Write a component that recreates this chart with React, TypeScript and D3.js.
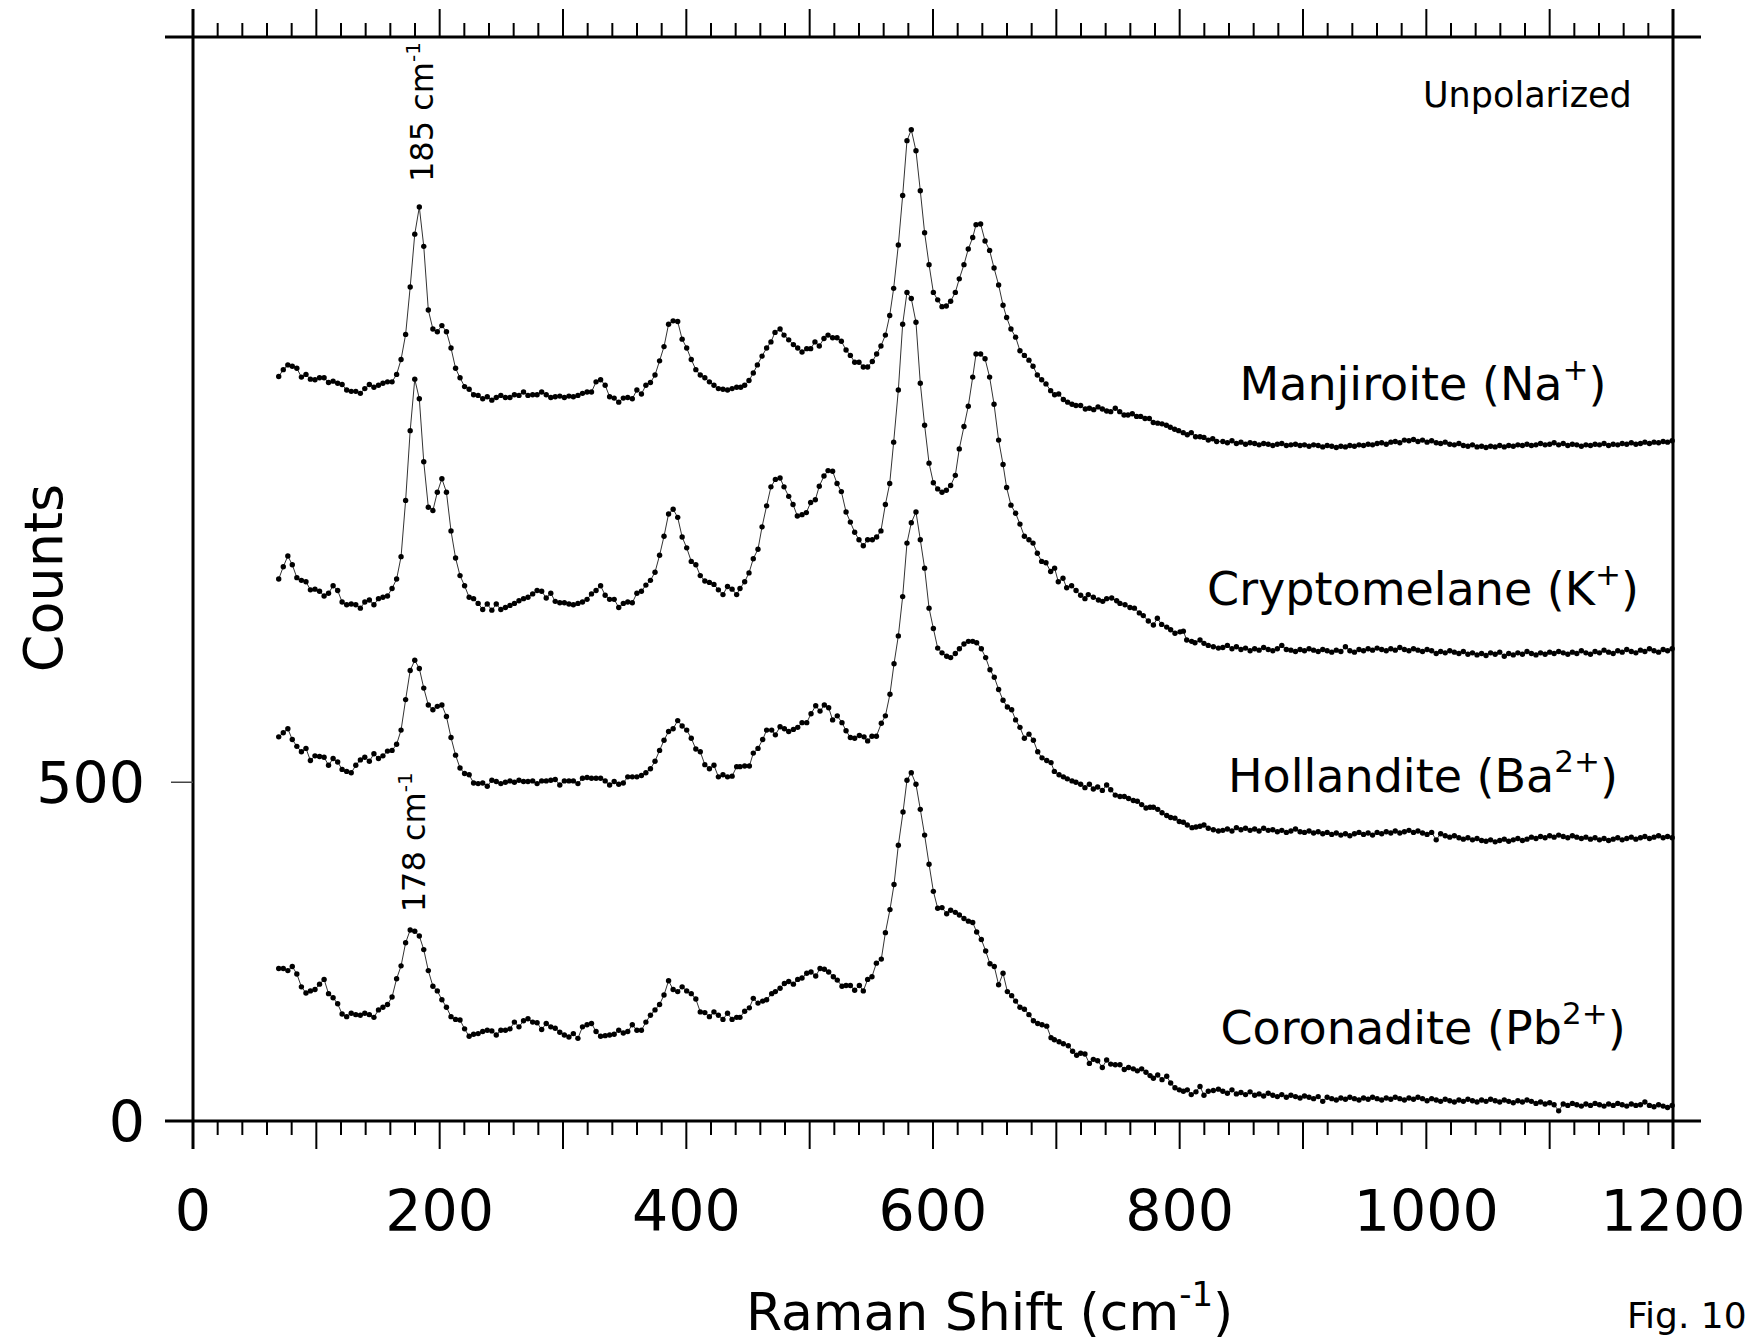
import React from "react";
import * as d3 from "d3";

// ---------- data (Raman shift in cm-1, intensity in counts as plotted) ----------
const LOW_SHIFT = [69.5,73.2,76.9,80.5,84.2,87.9,91.6,95.2,98.9,102.6,
106.3,109.9,113.6,117.3,120.9,124.6,128.3,132.0,135.7,139.3,
143.0,146.7,150.4,154.0,157.7,161.4,165.1,168.7,172.4,176.1,
179.8,183.5,187.1,190.8,194.5,198.1,201.8,205.5,209.2,212.9,
216.5,220.2,223.9,227.5,231.2,234.9,238.6,242.3,245.9,249.6,
253.3,257.0,260.6,264.3,268.0,271.6,275.4,279.0,282.7,286.4,
290.1,293.7,297.4,301.1,304.8,308.4,312.1,315.8,319.5,323.1,
326.8,330.5,334.2,337.8,341.5,345.2,348.9,352.5,356.2,359.9,
363.6,367.2,370.9,374.6,378.3,381.9,385.6,389.3,393.0,396.6,
400.3,404.0,407.7,411.3,415.0,418.7,422.4,426.0,429.7,433.4,
437.1,440.8];

const TAIL_SHIFT = [835.0,838.7,842.4,846.0,849.7,853.4,857.1,860.8,864.4,868.1,
871.8,875.5,879.2,882.8,886.5,890.2,893.9,897.6,901.2,904.9,
908.6,912.3,916.0,919.6,923.3,927.0,930.7,934.4,938.0,941.7,
945.4,949.1,952.8,956.4,960.1,963.8,967.5,971.2,974.8,978.5,
982.2,985.9,989.6,993.2,996.9,1000.6,1004.3,1008.0,1011.6,1015.3,
1019.0,1022.7,1026.4,1030.0,1033.7,1037.4,1041.1,1044.8,1048.4,1052.1,
1055.8,1059.5,1063.2,1066.8,1070.5,1074.2,1077.9,1081.6,1085.2,1088.9,
1092.6,1096.3,1100.0,1103.6,1107.3,1111.0,1114.7,1118.4,1122.0,1125.7,
1129.4,1133.1,1136.8,1140.4,1144.1,1147.8,1151.5,1155.2,1158.8,1162.5,
1166.2,1169.9,1173.6,1177.2,1180.9,1184.6,1188.3,1192.0,1195.6,1199.3];

// Manjiroite (Na+)
const MANJ_LOW = [1099,1109,1116,1114,1111,1098,1102,1095,1094,1097,
1097,1090,1092,1089,1087,1079,1077,1077,1074,1081,
1087,1083,1086,1089,1091,1091,1102,1124,1161,1231,
1309,1349,1291,1197,1169,1165,1174,1165,1141,1111,
1097,1084,1080,1072,1071,1066,1069,1064,1068,1071,
1068,1068,1072,1071,1076,1071,1072,1072,1076,1072,
1068,1069,1070,1068,1070,1069,1071,1074,1076,1076,
1091,1094,1086,1069,1067,1061,1067,1068,1066,1079,
1073,1086,1090,1101,1122,1143,1176,1181,1180,1154,
1141,1124,1109,1101,1097,1091,1086,1081,1080,1079,
1081,1083];
const MANJ_MID = [[444.1,1083],[447.3,1086],[450.8,1093],[454.3,1104],[457.6,1116],[461.4,1129],[465.1,1141],[468.6,1150],[471.9,1164],[476.0,1169],[479.2,1160],[483.0,1153],[486.8,1146],[490.3,1141],[493.8,1135],[497.6,1140],[500.8,1140],[504.3,1150],[507.8,1144],[511.6,1155],[514.9,1160],[518.6,1156],[522.2,1156],[525.7,1151],[529.5,1138],[533.0,1130],[536.5,1120],[540.0,1120],[543.5,1113],[547.0,1113],[550.8,1121],[554.3,1132],[557.8,1144],[561.4,1160],[564.9,1189],[568.1,1229],[571.9,1293],[575.4,1366],[578.9,1447],[582.4,1463],[586.2,1432],[589.7,1373],[593.2,1311],[596.8,1264],[600.3,1223],[603.8,1212],[607.3,1202],[610.8,1203],[614.3,1210],[618.1,1223],[621.3,1243],[625.1,1264],[628.6,1287],[632.2,1304],[634.9,1323],[638.6,1324],[642.2,1299],[645.9,1285],[649.5,1259],[653.2,1234],[656.8,1204],[659.7,1186],[663.2,1169],[667.0,1157],[670.5,1137],[674.1,1130],[677.8,1123],[681.1,1114],[684.6,1101],[688.1,1094],[691.6,1088],[695.4,1078],[698.6,1072],[701.9,1073],[705.7,1065],[709.2,1061],[712.7,1058],[715.9,1056],[719.7,1056],[723.5,1051],[726.8,1052],[730.3,1050],[733.8,1054],[737.3,1051],[740.8,1048],[744.1,1047],[747.8,1052],[751.4,1047],[754.9,1042],[758.1,1042],[761.6,1044],[765.1,1040],[768.4,1040],[771.9,1037],[775.4,1037],[778.6,1031],[782.2,1030],[785.7,1029],[789.2,1027],[792.4,1024],[795.9,1021],[799.2,1019],[802.9,1016],[806.2,1013],[809.4,1016],[812.9,1010],[816.5,1010],[819.7,1009],[823.2,1005],[826.8,1007],[830.0,1003]];
const MANJ_TAIL = [1003,1001,1004,1000,1002,999,1001,1000,998,1000,
999,997,999,1000,997,998,999,997,998,996,
998,997,995,997,996,994,996,995,997,996,
998,997,999,998,1000,1001,999,1002,1003,1001,
1005,1004,1006,1003,1005,1002,1004,1001,1000,1002,
999,998,1000,997,996,998,995,996,994,996,
995,997,995,997,996,998,997,999,997,998,
1000,998,999,1001,998,1000,997,999,998,996,
998,997,999,998,1000,997,999,998,1000,999,
1001,999,1000,1002,1000,1002,1001,1003,1002,1004];

// Cryptomelane (K+)
const CRYP_LOW = [800,818,834,821,802,798,796,784,785,782,
775,779,790,783,766,762,763,762,757,766,
769,762,771,773,775,786,800,833,916,1019,
1095,1066,973,906,901,928,948,928,871,831,
805,790,773,771,764,755,763,754,763,755,
758,761,764,768,771,773,778,783,782,772,
779,767,765,765,763,762,764,766,770,778,
783,790,776,770,770,758,764,766,765,779,
782,791,798,810,835,863,896,903,891,862,
846,826,821,805,797,795,792,784,777,789,
785,777];
const CRYP_MID = [[443.5,786],[447.3,796],[450.8,809],[454.3,830],[458.1,844],[461.4,877],[465.1,908],[468.6,936],[472.2,947],[476.0,949],[479.2,936],[483.0,922],[486.5,910],[490.0,893],[493.8,895],[497.3,898],[500.8,913],[504.6,917],[507.8,937],[511.6,952],[514.9,960],[518.6,959],[522.2,941],[525.7,929],[529.5,899],[533.0,884],[536.5,869],[540.0,858],[543.5,849],[547.0,858],[550.8,858],[554.3,862],[557.8,871],[561.4,910],[564.9,941],[568.1,1002],[571.9,1079],[575.4,1176],[578.9,1223],[582.4,1214],[586.2,1179],[589.7,1089],[593.2,1027],[596.8,971],[600.3,942],[603.8,933],[607.3,928],[610.8,931],[614.3,938],[618.1,953],[621.3,992],[625.1,1025],[628.6,1055],[632.2,1098],[634.9,1132],[638.6,1132],[642.2,1125],[645.9,1098],[649.5,1058],[653.2,1005],[656.8,969],[659.7,935],[663.2,909],[667.0,897],[670.5,881],[674.1,863],[677.8,858],[681.1,853],[684.6,838],[688.1,826],[691.6,824],[695.4,811],[698.6,816],[701.6,796],[705.4,801],[708.4,787],[712.4,790],[716.0,783],[719.7,776],[723.2,771],[725.9,777],[730.0,773],[734.1,769],[737.6,767],[740.8,771],[744.9,772],[748.9,768],[751.6,764],[755.7,762],[759.7,758],[763.3,757],[767.3,750],[770.5,746],[774.6,738],[778.7,732],[781.9,742],[785.4,733],[789.5,729],[792.7,725],[796.2,720],[800.3,722],[803.0,723],[805.7,710],[809.7,708],[812.4,706],[816.5,710],[819.7,705],[823.2,702],[827.3,700],[831.4,698]];
const CRYP_TAIL = [699,702,697,700,696,698,694,697,695,699,
696,694,697,702,696,695,693,696,694,697,
695,693,696,694,692,695,693,700,694,692,
696,694,697,695,698,696,694,697,695,699,
696,694,697,695,693,696,694,690,693,691,
694,692,690,693,689,691,688,690,687,691,
689,692,686,690,688,691,689,693,690,688,
691,689,692,690,693,691,689,692,690,694,
691,689,693,691,695,692,690,694,692,696,
693,691,695,693,697,694,692,696,694,697];

// Hollandite (Ba2+)
const HOLL_LOW = [567,573,579,563,553,545,550,532,539,538,
537,525,535,530,519,516,514,525,533,537,
531,542,535,539,546,547,556,577,622,665,
680,668,639,614,607,612,614,597,566,540,
521,513,511,499,498,499,494,503,501,498,
500,502,500,503,501,501,502,498,502,502,
503,504,496,502,502,502,498,506,507,506,
506,506,502,496,501,497,499,508,508,508,
510,514,520,531,547,562,575,579,591,583,
577,565,549,545,526,520,525,508,511,508,
509,523];
const HOLL_MID = [[443.5,523],[447.3,524],[451.1,524],[454.3,543],[458.1,550],[461.9,563],[465.1,577],[469.2,577],[472.2,570],[476.0,582],[479.5,579],[483.0,575],[486.8,578],[490.3,581],[493.8,588],[497.6,588],[501.1,601],[504.9,613],[508.4,605],[511.9,614],[515.4,610],[518.6,592],[522.4,598],[526.2,588],[529.5,576],[533.0,566],[536.5,565],[540.3,569],[544.1,567],[547.0,561],[550.5,568],[554.1,568],[558.1,587],[561.4,598],[565.1,630],[568.4,675],[571.9,716],[575.4,774],[578.9,853],[582.4,883],[586.2,899],[589.7,858],[593.2,816],[596.8,757],[600.3,727],[603.8,698],[607.3,691],[611.1,686],[614.3,684],[618.1,690],[621.4,697],[625.1,704],[628.7,708],[632.2,708],[635.4,706],[639.2,697],[642.7,684],[646.2,666],[649.7,655],[653.2,637],[656.8,621],[660.3,611],[663.8,607],[667.0,592],[670.5,581],[674.1,565],[677.8,571],[681.4,562],[684.9,545],[688.4,536],[692.2,532],[695.7,529],[698.4,516],[702.2,511],[705.7,508],[708.9,505],[712.7,502],[715.9,500],[719.7,497],[723.2,492],[726.8,497],[730.0,490],[733.5,493],[737.3,488],[740.8,496],[744.1,489],[747.8,481],[751.6,479],[755.1,479],[758.6,476],[762.4,473],[765.7,472],[769.2,467],[772.7,462],[776.0,463],[778.7,463],[782.2,460],[785.7,455],[789.5,451],[792.7,448],[796.2,447],[799.7,442],[803.0,441],[806.2,437],[810.0,433],[813.2,434],[816.5,435],[819.7,437],[823.2,432],[827.3,430],[831.4,428]];
const HOLL_TAIL = [429,431,428,433,430,432,429,431,428,432,
429,430,427,429,426,428,431,427,426,428,
425,427,424,426,423,425,422,424,421,424,
426,423,425,422,426,424,427,425,428,425,
427,429,426,428,425,423,426,415,424,421,
419,421,418,416,418,415,417,414,413,415,
412,414,416,413,415,417,414,416,419,417,
420,418,421,419,422,420,418,421,419,417,
419,416,418,415,417,414,416,418,415,417,
419,416,418,420,417,419,421,418,420,418];

// Coronadite (Pb2+)
const CORO_LOW = [225,225,222,228,217,198,189,192,194,202,
209,188,182,173,158,154,159,157,156,159,
157,153,164,168,172,183,210,229,263,282,
280,273,253,222,199,192,179,168,154,150,
149,136,125,128,129,132,134,133,127,134,
134,136,146,139,148,151,146,145,135,144,
139,137,131,127,124,129,122,139,142,144,
132,125,126,127,128,134,130,132,142,134,
134,146,156,164,172,186,207,194,191,198,
192,188,180,161,160,154,161,156,150,159,
150,153];
const CORO_MID = [[443.5,153],[447.3,162],[451.1,167],[454.3,181],[458.1,174],[461.9,177],[465.1,179],[469.2,188],[472.2,191],[476.0,196],[479.5,203],[483.0,206],[486.8,202],[490.3,209],[493.8,211],[497.6,218],[501.1,220],[504.9,214],[508.4,225],[511.9,224],[515.4,220],[519.2,213],[522.4,208],[526.2,199],[529.5,200],[533.0,200],[536.5,193],[540.3,200],[543.5,192],[547.0,209],[550.5,213],[554.1,233],[558.1,239],[561.4,278],[565.1,312],[568.4,349],[571.9,407],[575.7,456],[578.9,503],[582.4,514],[586.2,497],[589.7,460],[593.2,422],[596.8,379],[600.3,339],[603.8,314],[607.3,315],[611.1,306],[614.3,311],[618.1,308],[621.4,304],[625.1,299],[628.7,295],[632.2,293],[635.4,279],[639.2,268],[642.7,251],[646.2,232],[649.7,228],[653.2,201],[656.8,218],[660.3,191],[663.8,185],[667.0,177],[670.5,168],[674.1,165],[677.8,157],[681.4,148],[684.9,144],[688.4,142],[692.2,140],[695.7,123],[698.4,120],[702.2,117],[705.7,114],[709.7,111],[713.2,103],[716.5,97],[719.7,100],[723.2,99],[726.8,85],[730.0,91],[733.5,89],[737.3,79],[740.8,90],[744.1,84],[747.8,83],[751.6,83],[755.1,76],[758.6,79],[762.4,77],[765.7,74],[769.2,77],[772.7,72],[776.0,67],[778.7,63],[782.2,68],[785.7,61],[789.5,66],[792.7,56],[796.2,49],[799.7,46],[803.0,44],[806.2,46],[809.4,39],[813.2,43],[816.5,51],[819.7,38],[823.2,44],[827.3,45],[831.4,47]];
const CORO_TAIL = [44,41,46,40,42,39,43,38,40,37,
41,38,36,39,35,38,36,34,37,35,
33,36,29,35,33,31,34,32,35,33,
31,34,32,35,33,31,34,32,35,33,
31,34,32,35,33,30,33,31,29,32,
30,28,31,29,32,30,28,31,29,32,
30,28,31,29,27,30,28,31,29,26,
28,25,27,24,15,25,23,26,24,22,
25,23,26,24,22,25,23,26,24,22,
25,23,24,28,23,21,24,22,20,23];

const SERIES_NAMES = ["Manjiroite", "Cryptomelane", "Hollandite", "Coronadite"];
const SERIES_IONS = [["Na", "+"], ["K", "+"], ["Ba", "2+"], ["Pb", "2+"]];
const SERIES_LABEL_Y = [1064, 762, 486, 114]; // counts at each name's baseline
const X_MAJOR_TICKS = [0, 100, 200, 300, 400, 500, 600, 700, 800, 900, 1000, 1100, 1200];
const X_TICK_LABELS = [0, 200, 400, 600, 800, 1000, 1200];
const Y_TICK_LABELS = [0, 500];
const PEAK_NOTES = [{ shift: 185, label: "185", at: 1386 }, { shift: 178, label: "178", at: 308 }];

const SERIES_DATA = [
  [MANJ_LOW, MANJ_MID, MANJ_TAIL],
  [CRYP_LOW, CRYP_MID, CRYP_TAIL],
  [HOLL_LOW, HOLL_MID, HOLL_TAIL],
  [CORO_LOW, CORO_MID, CORO_TAIL],
];

const FONT = "'DejaVu Sans', Verdana, sans-serif";

export default function App() {
  const W = 1760, H = 1343;
  const L = 193, R = 1673, T = 37, B = 1121;
  const x = d3.scaleLinear().domain([0, 1200]).range([L, R]);
  const y = d3.scaleLinear().domain([0, 1600]).range([B, T]);
  const line = d3.line<number[]>().x(d => x(d[0])).y(d => y(d[1]));

  const series = SERIES_DATA.map(([low, mid, tail]) => [
    ...LOW_SHIFT.map((s, i) => [s, (low as number[])[i]]),
    ...(mid as number[][]),
    ...TAIL_SHIFT.map((s, i) => [s, (tail as number[])[i]]),
  ]);

  const minorTicks = d3.range(0, 1201, 20).filter(v => v % 100 !== 0);
  const majLen = 28, minLen = 14;

  return (
    <svg width={W} height={H} style={{ position: "absolute", left: 0, top: 0, background: "#fff" }} fontFamily={FONT}>
      <rect x={0} y={0} width={W} height={H} fill="#fff" />
      {/* frame */}
      <g stroke="#000" strokeWidth={3} fill="none">
        <line x1={L} x2={L} y1={T - majLen} y2={B + majLen} />
        <line x1={R} x2={R} y1={T - majLen} y2={B + majLen} />
        <line x1={L - majLen} x2={R + majLen} y1={B} y2={B} />
        <line x1={L - majLen} x2={R + majLen} y1={T} y2={T} />
      </g>
      {/* x ticks top & bottom */}
      <g stroke="#000" strokeWidth={2}>
        {X_MAJOR_TICKS.map(v => (
          <g key={"M" + v}>
            <line x1={x(v)} x2={x(v)} y1={B} y2={B + majLen} />
            <line x1={x(v)} x2={x(v)} y1={T} y2={T - majLen} />
          </g>
        ))}
        {minorTicks.map(v => (
          <g key={"m" + v}>
            <line x1={x(v)} x2={x(v)} y1={B} y2={B + minLen} />
            <line x1={x(v)} x2={x(v)} y1={T} y2={T - minLen} />
          </g>
        ))}
      </g>
      {/* y tick at 500 */}
      <line x1={L - 22} x2={L} y1={y(500)} y2={y(500)} stroke="#444" strokeWidth={1.5} />
      {/* tick labels */}
      <g fontSize={57} fill="#000">
        {X_TICK_LABELS.map(v => (
          <text key={"xl" + v} x={x(v)} y={1231} textAnchor="middle">{v}</text>
        ))}
        {Y_TICK_LABELS.map(v => (
          <text key={"yl" + v} x={145} y={y(v) + 21} textAnchor="end">{v}</text>
        ))}
      </g>
      {/* spectra */}
      {series.map((pts, si) => (
        <g key={"s" + si}>
          <path d={line(pts as any) || ""} fill="none" stroke="#333" strokeWidth={1} />
          {pts.map((p, i) => (
            <circle key={i} cx={x(p[0])} cy={y(p[1])} r={2.7} fill="#000" />
          ))}
        </g>
      ))}
      {/* series labels */}
      {SERIES_NAMES.map((n, i) => (
        <text key={"n" + i} x={1423} y={y(SERIES_LABEL_Y[i])} textAnchor="middle" fontSize={46} fill="#000">
          {n} ({SERIES_IONS[i][0]}
          <tspan dy={-20} fontSize={31}>{SERIES_IONS[i][1]}</tspan>
          <tspan dy={20}>)</tspan>
        </text>
      ))}
      {/* peak annotations */}
      {PEAK_NOTES.map((p, i) => (
        <text key={"p" + i} transform={`translate(${x(p.shift) + 12},${y(p.at)}) rotate(-90)`} fontSize={32} fill="#000">
          {p.label} cm<tspan dy={-13} fontSize={20}>-1</tspan>
        </text>
      ))}
      <text x={1423} y={107} fontSize={35} fill="#000">Unpolarized</text>
      {/* axis titles */}
      <text transform={`translate(62,578) rotate(-90)`} textAnchor="middle" fontSize={54} fill="#000">Counts</text>
      <text x={746} y={1330} fontSize={52} fill="#000">
        Raman Shift (cm<tspan dy={-24} fontSize={34}>-1</tspan><tspan dy={24}>)</tspan>
      </text>
      <text x={1627} y={1328} fontSize={36} fill="#000">Fig. 10</text>
    </svg>
  );
}
